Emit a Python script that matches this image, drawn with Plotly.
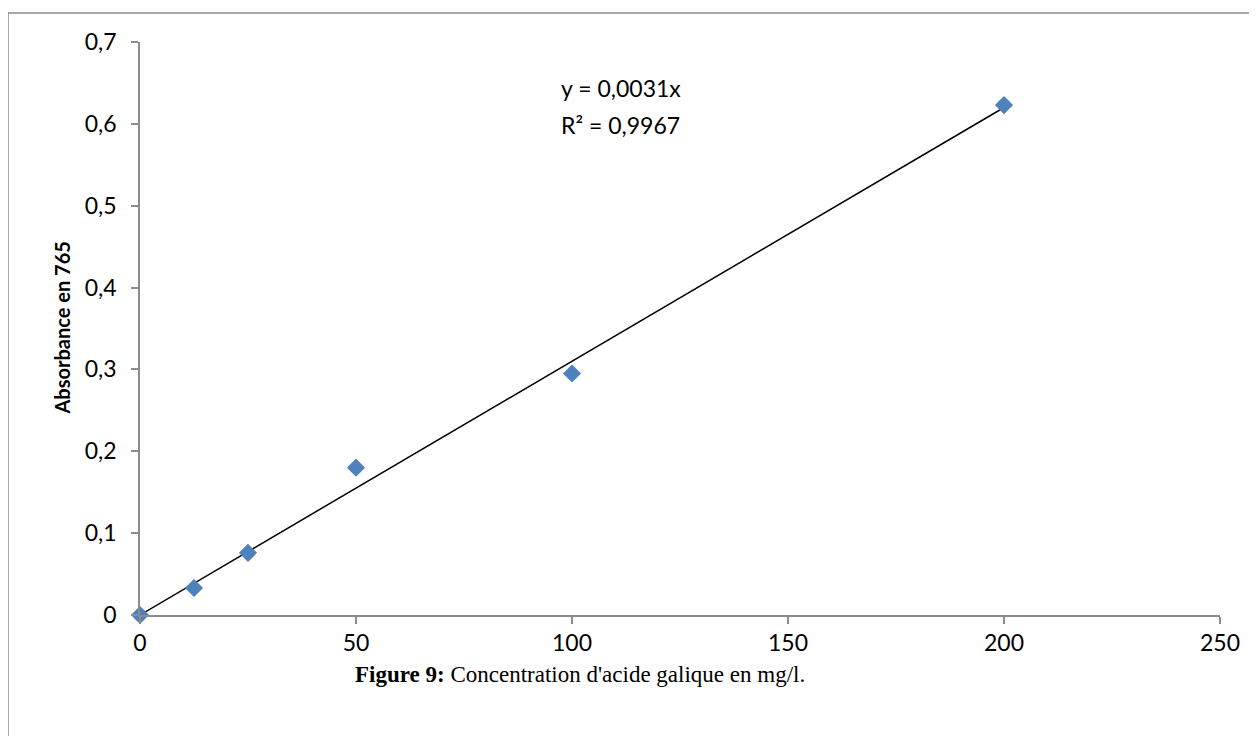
import plotly.graph_objects as go

conc = [0, 12.5, 25, 50, 100, 200]
absorb = [0, 0.033, 0.076, 0.180, 0.295, 0.623]
slope = 0.0031
trend_x = [0, 200]
trend_y = [slope * v for v in trend_x]
x_ticks = [0, 50, 100, 150, 200, 250]
y_ticks = [0, 0.1, 0.2, 0.3, 0.4, 0.5, 0.6, 0.7]
y_labels = ["0", "0,1", "0,2", "0,3", "0,4", "0,5", "0,6", "0,7"]

# page body has an 8px margin; plot area in reference: x 140..1220, y 42..615
OFF = 8
L, T, W, H = 140 - OFF, 42 - OFF, 1080, 573

def px(xpix):
    return (xpix - 140) / W

def py(ypix):
    return (615 - ypix) / H

fig = go.Figure()
fig.add_trace(go.Scatter(x=trend_x, y=trend_y, mode="lines",
                         line=dict(color="black", width=1.5), hoverinfo="skip", showlegend=False))
fig.add_trace(go.Scatter(x=conc, y=absorb, mode="markers",
                         marker=dict(symbol="diamond", size=14, color="#4F81BD"), showlegend=False,
                         cliponaxis=False))

axis_common = dict(showgrid=False, zeroline=False, showline=True, linecolor="#8c8c8c", linewidth=1.5,
                   ticks="outside", ticklen=7, tickcolor="#8c8c8c", tickwidth=1.5,
                   tickfont=dict(family="Lato", size=23, color="black"))
fig.update_xaxes(range=[0, 250], tickvals=x_ticks, ticktext=[str(v) for v in x_ticks],
                 **axis_common)
fig.update_yaxes(range=[0, 0.7], tickvals=y_ticks, ticktext=y_labels,
                 ticklabelstandoff=10, **axis_common)

fig.add_annotation(xref="paper", yref="paper", x=px(47), y=0.5, text="<b>Absorbance en 765</b>",
                   textangle=-90, showarrow=False, font=dict(family="Lato", size=20, color="black"))
fig.add_annotation(xref="x", yref="y", x=97, y=0.644, xanchor="left", yanchor="middle",
                   text="y = 0,0031x", showarrow=False, font=dict(family="Lato", size=23, color="black"))
fig.add_annotation(xref="x", yref="y", x=97, y=0.598, xanchor="left", yanchor="middle",
                   text="R² = 0,9967", showarrow=False, font=dict(family="Lato", size=23, color="black"))
fig.add_annotation(xref="paper", yref="paper", x=px(580), y=py(674),
                   xanchor="center", yanchor="middle",
                   text="<b>Figure 9:</b> Concentration d'acide galique en mg/l.", showarrow=False,
                   font=dict(family="Liberation Serif", size=23, color="black"))

fig.add_shape(type="rect", xref="paper", yref="paper",
              x0=px(8), x1=px(1275), y0=py(760), y1=py(13),
              line=dict(color="#8c8c8c", width=1.5), fillcolor="rgba(0,0,0,0)", layer="below")

fig.update_layout(width=1257, height=736,
                  margin=dict(l=L, r=1257 - L - W, t=T, b=736 - T - H),
                  plot_bgcolor="white", paper_bgcolor="white")
fig.write_html("out.html")
